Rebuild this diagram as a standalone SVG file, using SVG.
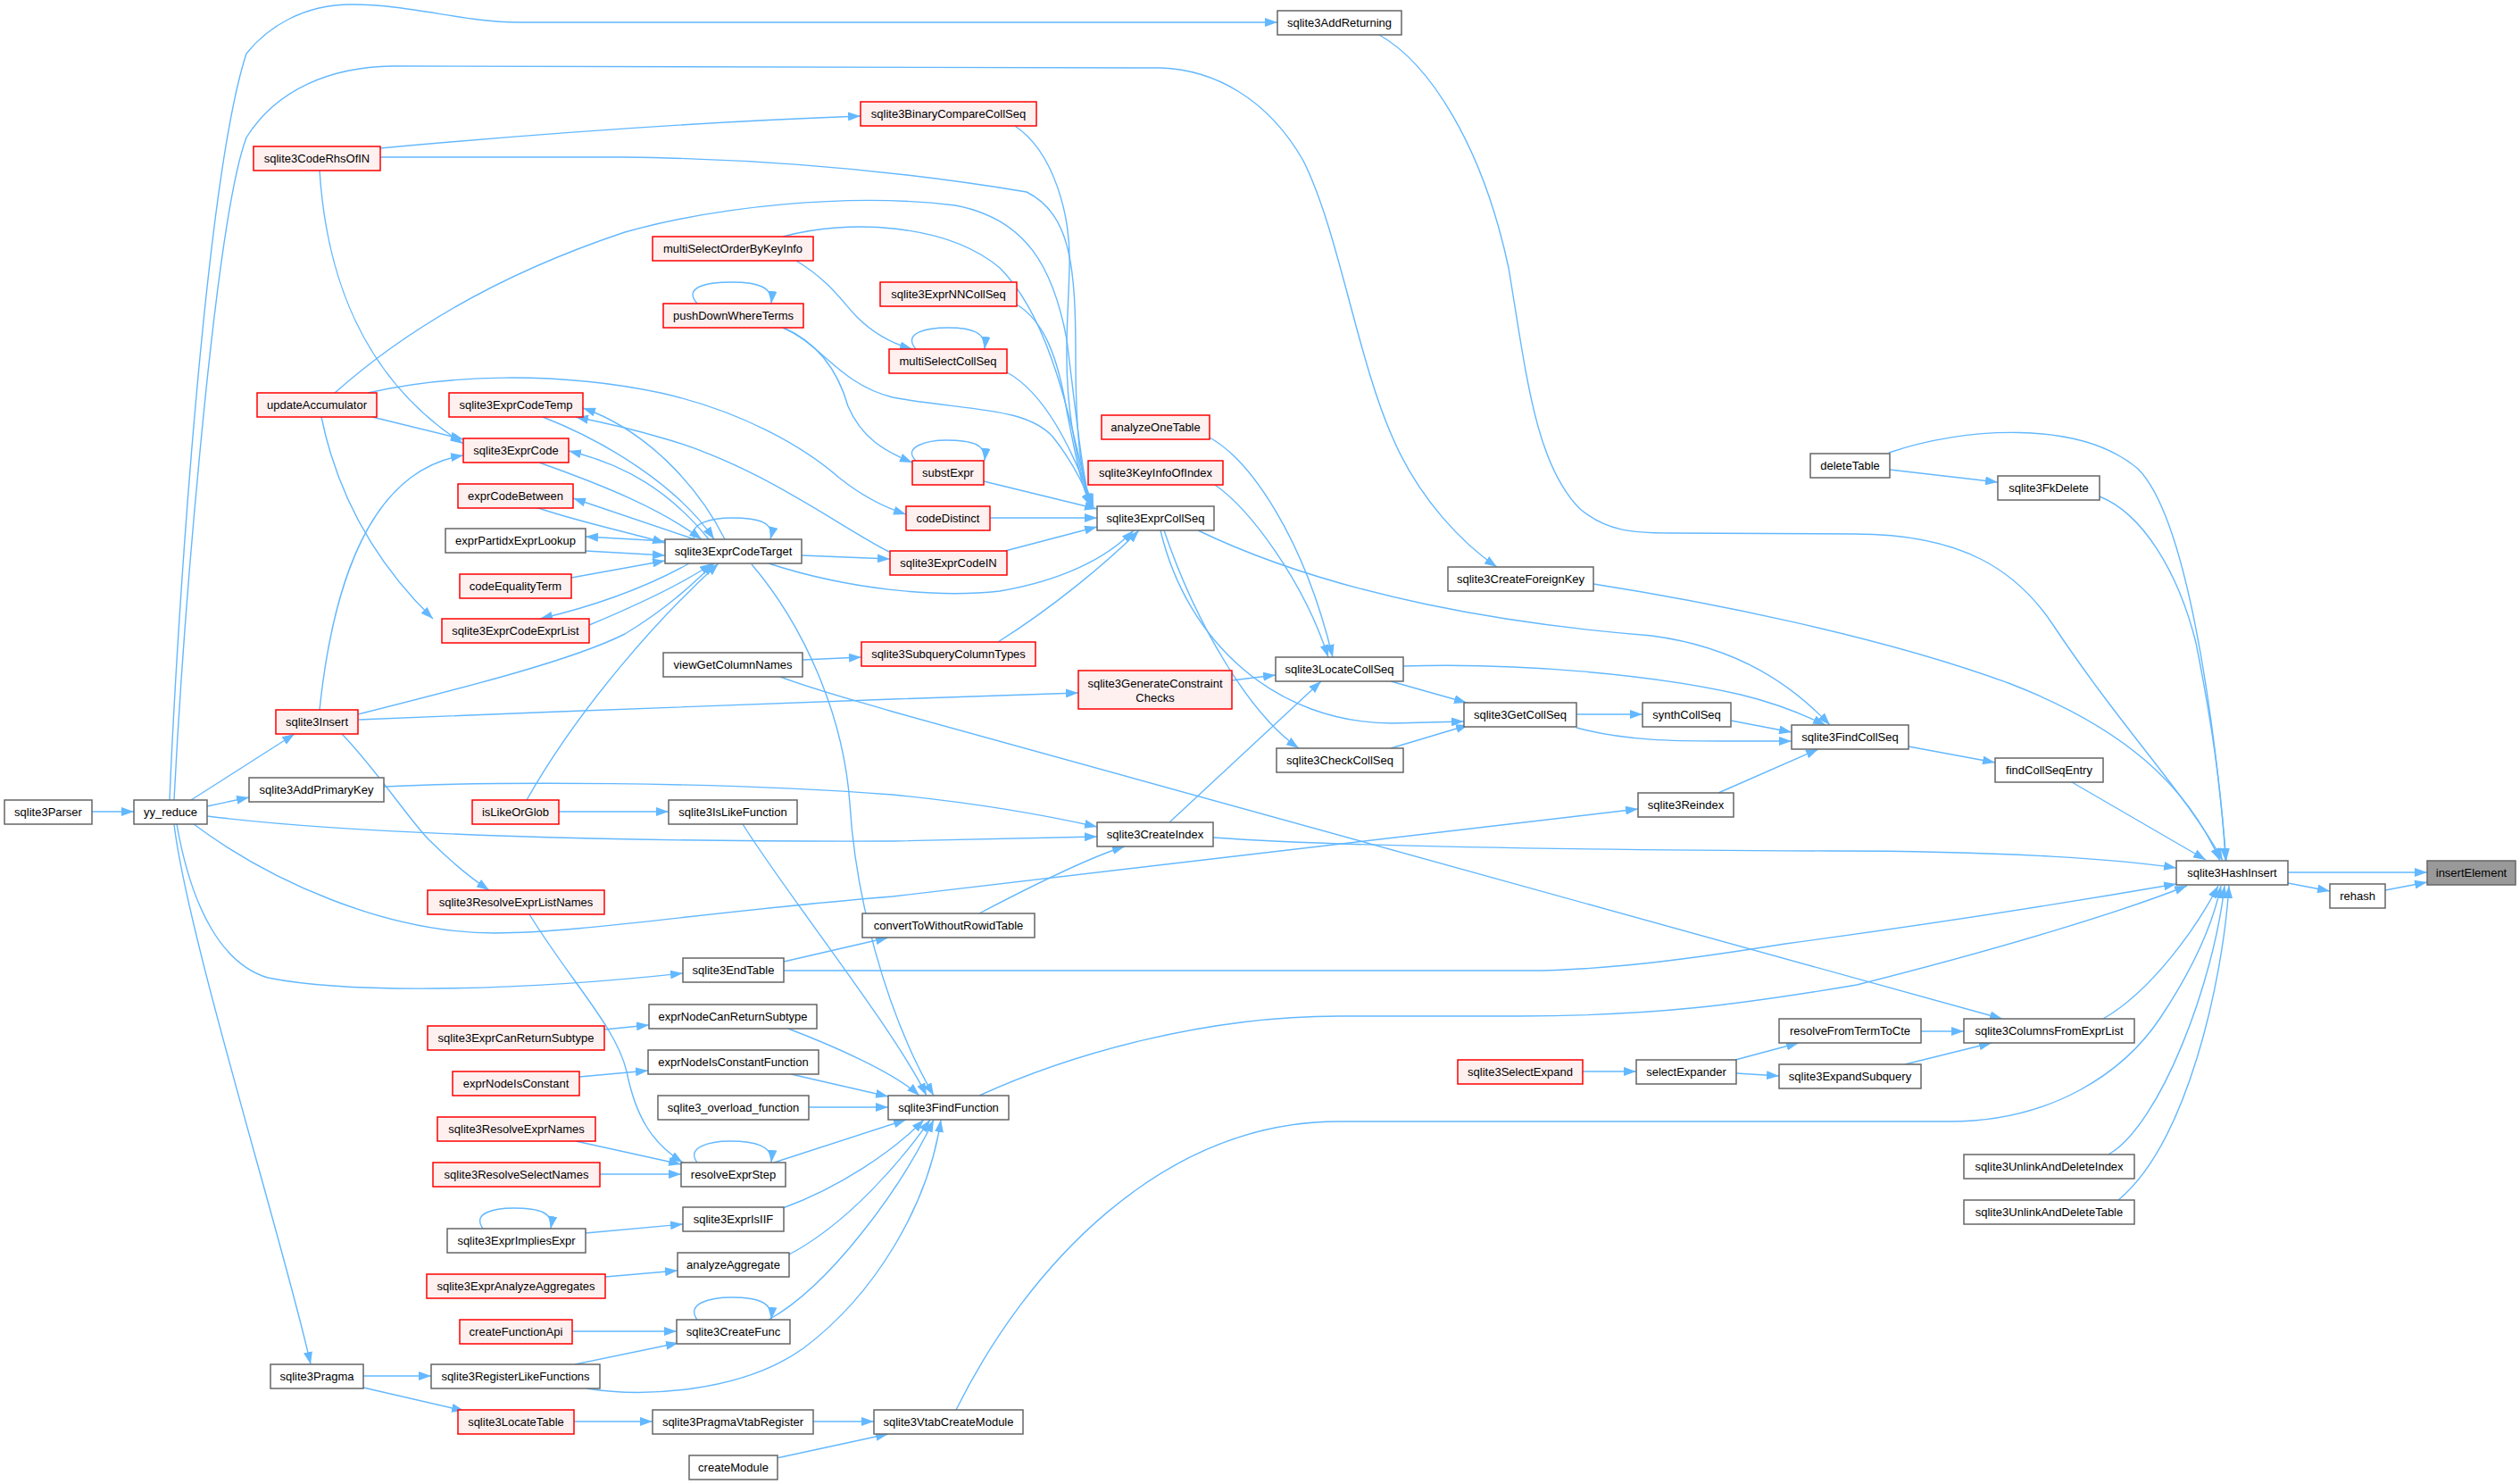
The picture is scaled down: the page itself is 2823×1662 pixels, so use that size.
<svg xmlns="http://www.w3.org/2000/svg" width="2823" height="1662" viewBox="0 0 2823 1662">
<defs>
<marker id="a" markerUnits="userSpaceOnUse" markerWidth="14" markerHeight="10" refX="14" refY="5" orient="auto"><path d="M0,0L14,5L0,10z" fill="#63B8FF"/></marker>
<style>
.n rect{fill:#ffffff;stroke:#666666;stroke-width:1.5}
.r rect{fill:#fff0f0;stroke:#ff0000;stroke-width:1.5}
.f rect{fill:#999999;stroke:#666666;stroke-width:1.5}
text{font-family:"Liberation Sans",Arial,sans-serif;font-size:13px;text-anchor:middle;fill:#000000}
#edges path{fill:none;stroke:#63B8FF;stroke-width:1.4;marker-end:url(#a)}
</style>
</defs>
<rect x="0" y="0" width="2823" height="1662" fill="#ffffff"/>
<g id="edges">
<path d="M2563,977L2719,977"/>
<path d="M2563,989L2610,998"/>
<path d="M2672,997L2719,988"/>
<path d="M2321,876L2471,963"/>
<path d="M2138,836L2235,854"/>
<path d="M2117,526L2238,540"/>
<path d="M2116,507C2200,478 2330,470 2395,525C2450,580 2480,800 2494,964"/>
<path d="M2352,556C2400,575 2440,640 2460,720C2480,820 2490,900 2493,964"/>
<path d="M1545,39C1600,70 1660,160 1690,300C1710,420 1720,520 1770,570C1800,595 1830,597 1870,597L2077,598C2200,598 2260,640 2300,700C2380,820 2450,890 2490,964"/>
<path d="M190,896C198,700 230,200 276,60C300,30 340,5 394,5C460,5 520,25 580,25L1431,25"/>
<path d="M195,896C205,700 240,250 276,154C310,100 370,75 440,74L1300,76C1360,78 1420,110 1460,180C1500,260 1520,400 1560,490C1590,560 1640,610 1677,635"/>
<path d="M1785,654C1900,672 2100,710 2250,765C2380,815 2450,880 2487,964"/>
<path d="M1342,594C1500,670 1700,700 1850,712C1950,725 2010,770 2050,812"/>
<path d="M1572,746C1700,742 1850,755 1950,778C2000,790 2030,805 2045,812"/>
<path d="M1766,815C1820,830 1880,830 1930,830L2007,830"/>
<path d="M1939,807L2007,820"/>
<path d="M1925,888L2037,839"/>
<path d="M1359,938C1500,948 1800,952 2050,953C2250,953 2380,963 2438,972"/>
<path d="M878,1087L1709,1087C1800,1087 1900,1073 2000,1057C2200,1030 2380,1000 2438,990"/>
<path d="M1097,1227C1200,1180 1350,1138 1500,1138L1700,1138C1850,1138 1950,1125 2080,1103C2250,1060 2380,1020 2450,992"/>
<path d="M1071,1579C1150,1420 1300,1256 1500,1256L2184,1256C2300,1256 2380,1200 2420,1140C2460,1080 2480,1030 2488,992"/>
<path d="M2356,1141C2410,1110 2460,1040 2485,992"/>
<path d="M2362,1293C2420,1260 2480,1100 2492,992"/>
<path d="M2373,1344C2450,1280 2490,1100 2497,992"/>
<path d="M874,758C920,775 950,782 1000,797L2243,1141"/>
<path d="M2152,1155L2200,1155"/>
<path d="M2134,1192L2231,1168"/>
<path d="M1944,1187L2015,1168"/>
<path d="M1945,1202L1993,1205"/>
<path d="M1773,1200L1833,1200"/>
<path d="M1300,594C1330,720 1430,810 1560,810L1640,808"/>
<path d="M1304,594C1340,700 1400,800 1455,838"/>
<path d="M1355,490C1400,515 1460,600 1493,736"/>
<path d="M1361,543C1400,570 1460,650 1488,736"/>
<path d="M1310,921L1480,763"/>
<path d="M1380,762L1429,756"/>
<path d="M1558,763L1643,787"/>
<path d="M1558,838L1645,812"/>
<path d="M1766,800L1840,800"/>
<path d="M1118,719C1180,680 1240,630 1276,594"/>
<path d="M899,739L965,736"/>
<path d="M402,806C600,798 900,786 1000,783L1208,776"/>
<path d="M1126,617L1229,590"/>
<path d="M1109,580L1229,580"/>
<path d="M1102,539L1229,570"/>
<path d="M861,631C950,660 1050,670 1120,662C1190,650 1240,625 1270,594"/>
<path d="M1128,417C1170,440 1200,500 1225,567"/>
<path d="M877,367C920,385 940,430 1000,445C1080,460 1150,455 1180,490C1200,515 1215,545 1224,567"/>
<path d="M877,367C920,385 940,420 950,455C965,490 990,505 1022,518"/>
<path d="M781,340C765,322 790,316 820,316C850,316 866,322 864,340"/>
<path d="M892,292C930,315 945,340 960,355C980,375 1000,385 1022,391"/>
<path d="M1026,391C1010,372 1040,367 1062,367C1090,367 1105,373 1103,391"/>
<path d="M877,265C950,245 1060,250 1120,300C1180,360 1200,480 1222,567"/>
<path d="M1139,341C1170,360 1185,400 1195,460C1205,510 1210,540 1222,567"/>
<path d="M1137,141C1180,170 1200,240 1198,300C1196,380 1185,450 1222,567"/>
<path d="M426,176L700,176C850,178 1000,190 1150,215C1200,240 1205,300 1205,400C1205,480 1210,530 1222,567"/>
<path d="M426,166C600,150 800,136 964,130"/>
<path d="M375,440C420,400 520,320 700,260C800,232 950,215 1070,230C1150,245 1180,300 1195,380C1205,460 1212,530 1222,567"/>
<path d="M412,440C500,420 620,415 740,440C830,460 900,500 940,535C965,555 990,568 1015,576"/>
<path d="M417,467L519,492"/>
<path d="M360,467C375,540 410,620 485,693"/>
<path d="M358,191C365,300 400,420 519,497"/>
<path d="M358,795C370,680 400,580 460,535C480,520 500,513 519,510"/>
<path d="M812,604C780,540 720,480 653,457"/>
<path d="M996,618C940,590 850,520 740,490C700,478 670,472 645,467"/>
<path d="M608,467C680,495 760,545 800,604"/>
<path d="M794,604C750,550 700,520 637,505"/>
<path d="M604,518C680,545 740,570 786,604"/>
<path d="M778,604L642,558"/>
<path d="M600,568C650,585 700,595 745,608"/>
<path d="M745,606L656,601"/>
<path d="M656,617L745,622"/>
<path d="M640,647L745,628"/>
<path d="M772,631C720,660 660,680 605,693"/>
<path d="M660,700C720,675 770,650 798,631"/>
<path d="M401,800C520,770 640,740 700,710C750,680 780,650 800,631"/>
<path d="M590,896C650,790 740,690 805,631"/>
<path d="M778,604C770,585 800,580 820,580C850,580 868,585 863,604"/>
<path d="M898,622L997,626"/>
<path d="M842,632C900,700 945,800 952,900C958,1000 990,1130 1046,1227"/>
<path d="M832,923C880,1000 1000,1150 1038,1227"/>
<path d="M883,1152C930,1170 1000,1200 1030,1227"/>
<path d="M886,1203L995,1228"/>
<path d="M906,1240L995,1240"/>
<path d="M867,1302L1015,1254"/>
<path d="M877,1353C940,1330 1000,1290 1035,1254"/>
<path d="M884,1405C950,1370 1010,1300 1042,1254"/>
<path d="M861,1478C930,1440 1010,1330 1046,1254"/>
<path d="M657,1555C720,1565 830,1560 900,1510C980,1450 1040,1350 1054,1254"/>
<path d="M677,1153L727,1148"/>
<path d="M649,1206L726,1199"/>
<path d="M645,1278L763,1304"/>
<path d="M672,1315L763,1315"/>
<path d="M781,1302C768,1285 795,1278 818,1278C845,1278 866,1283 864,1302"/>
<path d="M593,1024C640,1100 690,1150 702,1200C712,1250 730,1280 765,1302"/>
<path d="M541,1376C528,1358 555,1353 575,1353C605,1353 620,1358 617,1376"/>
<path d="M656,1381L765,1371"/>
<path d="M678,1430L759,1423"/>
<path d="M641,1491L758,1491"/>
<path d="M781,1478C768,1460 795,1453 820,1453C848,1453 866,1458 864,1478"/>
<path d="M644,1528L760,1504"/>
<path d="M407,1541L483,1541"/>
<path d="M407,1554L520,1580"/>
<path d="M643,1592L731,1592"/>
<path d="M911,1592L979,1592"/>
<path d="M870,1633L995,1606"/>
<path d="M195,923C210,1050 320,1400 348,1528"/>
<path d="M198,923C215,1020 250,1080 300,1095C400,1115 600,1108 765,1090"/>
<path d="M103,909L150,909"/>
<path d="M214,896L330,822"/>
<path d="M232,903L279,893"/>
<path d="M232,914C400,935 700,943 1000,942L1229,937"/>
<path d="M217,923C300,985 430,1045 555,1045C650,1045 800,1020 1000,1004L1835,906"/>
<path d="M430,881C550,875 800,875 1000,890C1100,900 1180,915 1229,926"/>
<path d="M383,822C420,860 460,920 480,940C510,970 530,985 548,997"/>
<path d="M878,1077L995,1050"/>
<path d="M1097,1023C1160,990 1220,960 1260,948"/>
<path d="M626,909L749,909"/>
<path d="M1026,516C1010,500 1040,493 1060,493C1090,493 1105,498 1103,516"/>
</g>
<g id="sqlite3Parser" class="n"><rect x="5" y="896" width="98" height="27"/><text x="54" y="914">sqlite3Parser</text></g>
<g id="yy_reduce" class="n"><rect x="150" y="896" width="82" height="27"/><text x="191" y="914">yy_reduce</text></g>
<g id="sqlite3Insert" class="r"><rect x="309" y="795" width="92" height="27"/><text x="355" y="813">sqlite3Insert</text></g>
<g id="sqlite3AddPrimaryKey" class="n"><rect x="279" y="871" width="151" height="27"/><text x="354.5" y="889">sqlite3AddPrimaryKey</text></g>
<g id="sqlite3Pragma" class="n"><rect x="303" y="1528" width="104" height="27"/><text x="355" y="1546">sqlite3Pragma</text></g>
<g id="sqlite3CodeRhsOfIN" class="r"><rect x="284" y="164" width="142" height="27"/><text x="355" y="182">sqlite3CodeRhsOfIN</text></g>
<g id="updateAccumulator" class="r"><rect x="288" y="440" width="134" height="27"/><text x="355" y="458">updateAccumulator</text></g>
<g id="sqlite3ExprCodeTemp" class="r"><rect x="503" y="440" width="150" height="27"/><text x="578" y="458">sqlite3ExprCodeTemp</text></g>
<g id="sqlite3ExprCode" class="r"><rect x="519" y="491" width="118" height="27"/><text x="578" y="509">sqlite3ExprCode</text></g>
<g id="exprCodeBetween" class="r"><rect x="513" y="542" width="129" height="27"/><text x="577.5" y="560">exprCodeBetween</text></g>
<g id="exprPartidxExprLookup" class="n"><rect x="499" y="592" width="157" height="27"/><text x="577.5" y="610">exprPartidxExprLookup</text></g>
<g id="codeEqualityTerm" class="r"><rect x="515" y="643" width="125" height="27"/><text x="577.5" y="661">codeEqualityTerm</text></g>
<g id="sqlite3ExprCodeExprList" class="r"><rect x="495" y="693" width="165" height="27"/><text x="577.5" y="711">sqlite3ExprCodeExprList</text></g>
<g id="sqlite3ExprCodeTarget" class="n"><rect x="745" y="604" width="153" height="27"/><text x="821.5" y="622">sqlite3ExprCodeTarget</text></g>
<g id="viewGetColumnNames" class="n"><rect x="743" y="731" width="156" height="27"/><text x="821" y="749">viewGetColumnNames</text></g>
<g id="isLikeOrGlob" class="r"><rect x="529" y="896" width="97" height="27"/><text x="577.5" y="914">isLikeOrGlob</text></g>
<g id="sqlite3IsLikeFunction" class="n"><rect x="749" y="896" width="144" height="27"/><text x="821" y="914">sqlite3IsLikeFunction</text></g>
<g id="sqlite3ResolveExprListNames" class="r"><rect x="479" y="997" width="198" height="27"/><text x="578" y="1015">sqlite3ResolveExprListNames</text></g>
<g id="sqlite3EndTable" class="n"><rect x="765" y="1073" width="113" height="27"/><text x="821.5" y="1091">sqlite3EndTable</text></g>
<g id="exprNodeCanReturnSubtype" class="n"><rect x="727" y="1125" width="188" height="27"/><text x="821" y="1143">exprNodeCanReturnSubtype</text></g>
<g id="sqlite3ExprCanReturnSubtype" class="r"><rect x="479" y="1149" width="198" height="27"/><text x="578" y="1167">sqlite3ExprCanReturnSubtype</text></g>
<g id="exprNodeIsConstantFunction" class="n"><rect x="726" y="1176" width="191" height="27"/><text x="821.5" y="1194">exprNodeIsConstantFunction</text></g>
<g id="exprNodeIsConstant" class="r"><rect x="507" y="1200" width="142" height="27"/><text x="578" y="1218">exprNodeIsConstant</text></g>
<g id="sqlite3_overload_function" class="n"><rect x="737" y="1227" width="169" height="27"/><text x="821.5" y="1245">sqlite3_overload_function</text></g>
<g id="sqlite3ResolveExprNames" class="r"><rect x="490" y="1251" width="177" height="27"/><text x="578.5" y="1269">sqlite3ResolveExprNames</text></g>
<g id="sqlite3ResolveSelectNames" class="r"><rect x="485" y="1302" width="187" height="27"/><text x="578.5" y="1320">sqlite3ResolveSelectNames</text></g>
<g id="resolveExprStep" class="n"><rect x="763" y="1302" width="117" height="27"/><text x="821.5" y="1320">resolveExprStep</text></g>
<g id="sqlite3ExprIsIIF" class="n"><rect x="765" y="1352" width="113" height="27"/><text x="821.5" y="1370">sqlite3ExprIsIIF</text></g>
<g id="sqlite3ExprImpliesExpr" class="n"><rect x="501" y="1376" width="155" height="27"/><text x="578.5" y="1394">sqlite3ExprImpliesExpr</text></g>
<g id="analyzeAggregate" class="n"><rect x="759" y="1403" width="125" height="27"/><text x="821.5" y="1421">analyzeAggregate</text></g>
<g id="sqlite3ExprAnalyzeAggregates" class="r"><rect x="478" y="1427" width="200" height="27"/><text x="578" y="1445">sqlite3ExprAnalyzeAggregates</text></g>
<g id="createFunctionApi" class="r"><rect x="515" y="1478" width="126" height="27"/><text x="578" y="1496">createFunctionApi</text></g>
<g id="sqlite3CreateFunc" class="n"><rect x="758" y="1478" width="127" height="27"/><text x="821.5" y="1496">sqlite3CreateFunc</text></g>
<g id="sqlite3RegisterLikeFunctions" class="n"><rect x="483" y="1528" width="189" height="27"/><text x="577.5" y="1546">sqlite3RegisterLikeFunctions</text></g>
<g id="sqlite3LocateTable" class="r"><rect x="513" y="1579" width="130" height="27"/><text x="578" y="1597">sqlite3LocateTable</text></g>
<g id="sqlite3PragmaVtabRegister" class="n"><rect x="731" y="1579" width="180" height="27"/><text x="821" y="1597">sqlite3PragmaVtabRegister</text></g>
<g id="createModule" class="n"><rect x="772" y="1630" width="99" height="27"/><text x="821.5" y="1648">createModule</text></g>
<g id="convertToWithoutRowidTable" class="n"><rect x="966" y="1023" width="193" height="27"/><text x="1062.5" y="1041">convertToWithoutRowidTable</text></g>
<g id="sqlite3FindFunction" class="n"><rect x="995" y="1227" width="135" height="27"/><text x="1062.5" y="1245">sqlite3FindFunction</text></g>
<g id="sqlite3VtabCreateModule" class="n"><rect x="979" y="1579" width="167" height="27"/><text x="1062.5" y="1597">sqlite3VtabCreateModule</text></g>
<g id="sqlite3SelectExpand" class="r"><rect x="1633" y="1187" width="140" height="27"/><text x="1703" y="1205">sqlite3SelectExpand</text></g>
<g id="selectExpander" class="n"><rect x="1833" y="1187" width="112" height="27"/><text x="1889" y="1205">selectExpander</text></g>
<g id="resolveFromTermToCte" class="n"><rect x="1993" y="1141" width="159" height="27"/><text x="2072.5" y="1159">resolveFromTermToCte</text></g>
<g id="sqlite3ExpandSubquery" class="n"><rect x="1993" y="1192" width="159" height="27"/><text x="2072.5" y="1210">sqlite3ExpandSubquery</text></g>
<g id="sqlite3ColumnsFromExprList" class="n"><rect x="2200" y="1141" width="191" height="27"/><text x="2295.5" y="1159">sqlite3ColumnsFromExprList</text></g>
<g id="sqlite3UnlinkAndDeleteIndex" class="n"><rect x="2200" y="1293" width="191" height="27"/><text x="2295.5" y="1311">sqlite3UnlinkAndDeleteIndex</text></g>
<g id="sqlite3UnlinkAndDeleteTable" class="n"><rect x="2200" y="1344" width="191" height="27"/><text x="2295.5" y="1362">sqlite3UnlinkAndDeleteTable</text></g>
<g id="deleteTable" class="n"><rect x="2028" y="508" width="89" height="27"/><text x="2072.5" y="526">deleteTable</text></g>
<g id="sqlite3FkDelete" class="n"><rect x="2238" y="533" width="114" height="27"/><text x="2295" y="551">sqlite3FkDelete</text></g>
<g id="sqlite3FindCollSeq" class="n"><rect x="2007" y="812" width="131" height="27"/><text x="2072.5" y="830">sqlite3FindCollSeq</text></g>
<g id="findCollSeqEntry" class="n"><rect x="2235" y="849" width="121" height="27"/><text x="2295.5" y="867">findCollSeqEntry</text></g>
<g id="sqlite3HashInsert" class="n"><rect x="2438" y="964" width="125" height="27"/><text x="2500.5" y="982">sqlite3HashInsert</text></g>
<g id="insertElement" class="f"><rect x="2719" y="964" width="99" height="27"/><text x="2768.5" y="982">insertElement</text></g>
<g id="rehash" class="n"><rect x="2610" y="990" width="62" height="27"/><text x="2641" y="1008">rehash</text></g>
<g id="analyzeOneTable" class="r"><rect x="1234" y="465" width="121" height="27"/><text x="1294.5" y="483">analyzeOneTable</text></g>
<g id="sqlite3KeyInfoOfIndex" class="r"><rect x="1219" y="516" width="151" height="27"/><text x="1294.5" y="534">sqlite3KeyInfoOfIndex</text></g>
<g id="substExpr" class="r"><rect x="1022" y="516" width="80" height="27"/><text x="1062" y="534">substExpr</text></g>
<g id="codeDistinct" class="r"><rect x="1015" y="567" width="94" height="27"/><text x="1062" y="585">codeDistinct</text></g>
<g id="sqlite3ExprCodeIN" class="r"><rect x="997" y="617" width="131" height="27"/><text x="1062.5" y="635">sqlite3ExprCodeIN</text></g>
<g id="sqlite3ExprCollSeq" class="n"><rect x="1229" y="567" width="131" height="27"/><text x="1294.5" y="585">sqlite3ExprCollSeq</text></g>
<g id="sqlite3SubqueryColumnTypes" class="r"><rect x="965" y="719" width="195" height="27"/><text x="1062.5" y="737">sqlite3SubqueryColumnTypes</text></g>
<g id="sqlite3GenerateConstraintChecks" class="r"><rect x="1208" y="751" width="172" height="43"/><text x="1294" y="770">sqlite3GenerateConstraint</text><text x="1294" y="786">Checks</text></g>
<g id="sqlite3LocateCollSeq" class="n"><rect x="1429" y="736" width="143" height="27"/><text x="1500.5" y="754">sqlite3LocateCollSeq</text></g>
<g id="sqlite3GetCollSeq" class="n"><rect x="1640" y="787" width="126" height="27"/><text x="1703" y="805">sqlite3GetCollSeq</text></g>
<g id="synthCollSeq" class="n"><rect x="1840" y="787" width="99" height="27"/><text x="1889.5" y="805">synthCollSeq</text></g>
<g id="sqlite3CheckCollSeq" class="n"><rect x="1430" y="838" width="142" height="27"/><text x="1501" y="856">sqlite3CheckCollSeq</text></g>
<g id="sqlite3CreateForeignKey" class="n"><rect x="1622" y="635" width="163" height="27"/><text x="1703.5" y="653">sqlite3CreateForeignKey</text></g>
<g id="sqlite3Reindex" class="n"><rect x="1835" y="888" width="107" height="27"/><text x="1888.5" y="906">sqlite3Reindex</text></g>
<g id="sqlite3CreateIndex" class="n"><rect x="1229" y="921" width="130" height="27"/><text x="1294" y="939">sqlite3CreateIndex</text></g>
<g id="sqlite3BinaryCompareCollSeq" class="r"><rect x="964" y="114" width="197" height="27"/><text x="1062.5" y="132">sqlite3BinaryCompareCollSeq</text></g>
<g id="multiSelectOrderByKeyInfo" class="r"><rect x="731" y="265" width="180" height="27"/><text x="821" y="283">multiSelectOrderByKeyInfo</text></g>
<g id="pushDownWhereTerms" class="r"><rect x="743" y="340" width="157" height="27"/><text x="821.5" y="358">pushDownWhereTerms</text></g>
<g id="sqlite3ExprNNCollSeq" class="r"><rect x="986" y="316" width="153" height="27"/><text x="1062.5" y="334">sqlite3ExprNNCollSeq</text></g>
<g id="multiSelectCollSeq" class="r"><rect x="996" y="391" width="132" height="27"/><text x="1062" y="409">multiSelectCollSeq</text></g>
<g id="sqlite3AddReturning" class="n"><rect x="1431" y="12" width="139" height="27"/><text x="1500.5" y="30">sqlite3AddReturning</text></g>
</svg>
